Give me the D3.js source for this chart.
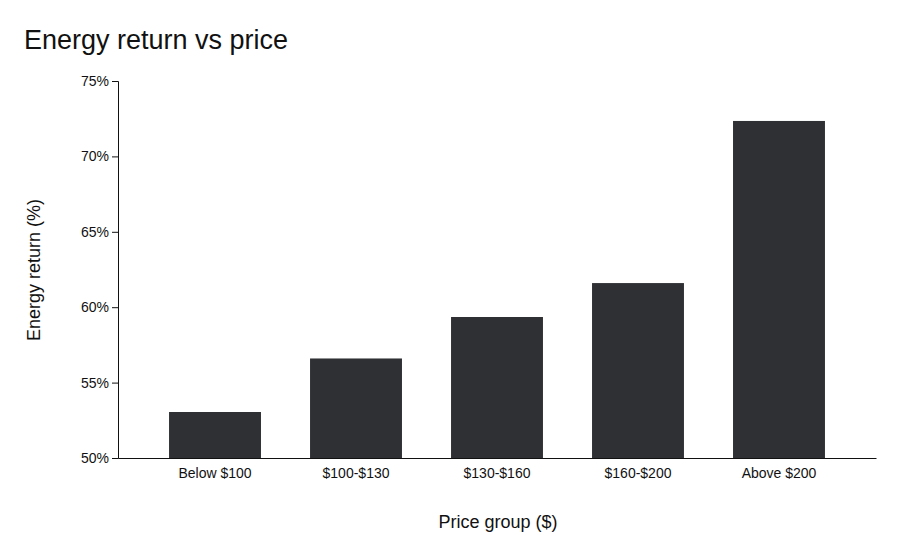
<!DOCTYPE html>
<html><head><meta charset="utf-8">
<script src="https://cdn.jsdelivr.net/npm/d3@7"></script>
<style>body{margin:0;background:#fff;font-family:"Liberation Sans",Arial,sans-serif}</style>
</head><body>
<svg id="c" width="901" height="558"></svg>
<script>
const categories = ["Below $100","$100-$130","$130-$160","$160-$200","Above $200"];
const values = [53.05, 56.6, 59.35, 61.6, 72.35];
const yTicks = [50,55,60,65,70,75];

const svg = d3.select("#c");
const m = {l:118, r:876, t:81, b:458};
const x = d3.scaleBand().domain(categories).range([m.l,m.r]).paddingInner(0.348).paddingOuter(0.362);
const y = d3.scaleLinear().domain([50,75]).range([m.b,m.t]);

svg.append("text").attr("x",24).attr("y",49).attr("font-size",27).attr("fill","#111").text("Energy return vs price");

svg.selectAll("rect.bar").data(values).join("rect")
  .attr("x",(d,i)=>x(categories[i])).attr("width",x.bandwidth())
  .attr("y",d=>y(d)).attr("height",d=>m.b-y(d)).attr("fill","#2e3033");

const ya = svg.append("g").attr("transform",`translate(${m.l},0)`)
  .call(d3.axisLeft(y).tickValues(yTicks).tickFormat(d=>d+"%").tickSize(6));
ya.selectAll("text").attr("font-size",14).attr("fill","#111").attr("font-family","Liberation Sans, Arial, sans-serif");
ya.selectAll("line,path").attr("stroke","#111");

const xa = svg.append("g").attr("transform",`translate(0,${m.b})`)
  .call(d3.axisBottom(x).tickSize(0).tickSizeOuter(0).tickPadding(10));
xa.selectAll("text").attr("font-size",14).attr("fill","#111").attr("font-family","Liberation Sans, Arial, sans-serif");
xa.selectAll("path").attr("stroke","#111");

svg.append("text").attr("x",498).attr("y",528).attr("text-anchor","middle").attr("font-size",18).attr("fill","#111").text("Price group ($)");
svg.append("text").attr("transform","translate(40,270) rotate(-90)").attr("text-anchor","middle").attr("font-size",18).attr("fill","#111").text("Energy return (%)");
</script>
</body></html>
